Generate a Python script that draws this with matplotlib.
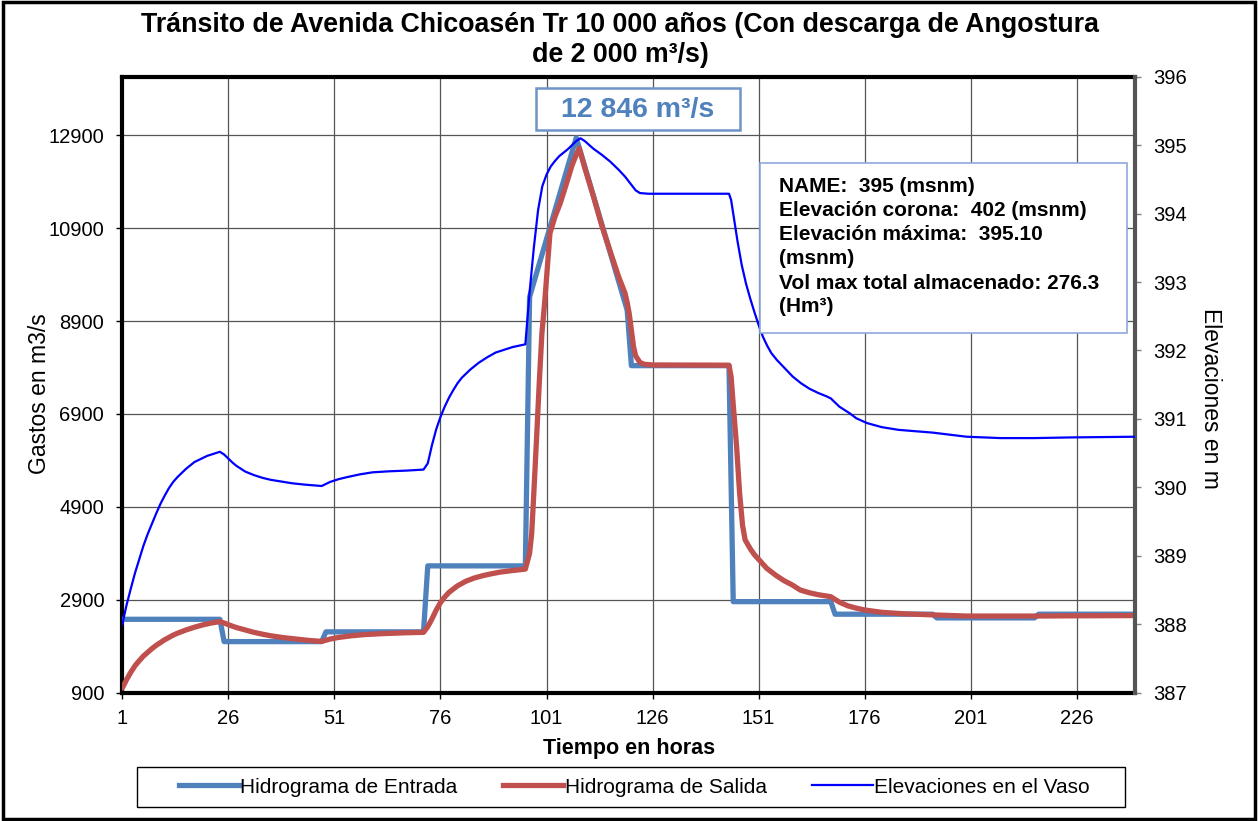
import matplotlib
matplotlib.use('Agg')
import matplotlib.pyplot as plt
from matplotlib.patches import Rectangle
from matplotlib.lines import Line2D

plt.rcParams['font.family'] = ['Liberation Sans', 'DejaVu Sans']

# ---------------- data ----------------
hours_in = [1, 24, 25, 48, 49, 72, 73, 96, 97, 108, 120, 121, 144, 145, 168, 169, 192, 193, 216, 217, 240]
q_in = [2480, 2480, 2000, 2000, 2210, 2210, 3630, 3630, 9420, 12846, 9135, 7940, 7940, 2860, 2860,
        2590, 2590, 2510, 2510, 2590, 2590]

hours_out = [1, 2, 3, 4, 5, 6, 7, 8, 9, 10, 11, 12, 13, 14, 15, 16, 17, 18, 19, 20, 21, 22, 23, 24,
             25, 26, 27, 28, 30, 32, 34, 36, 39, 42, 45, 48,
             49, 50, 52, 55, 58, 62, 67, 72,
             73, 74, 75, 76, 77, 78, 80, 82, 84, 86, 88, 90, 93, 96,
             97, 97.5, 98, 98.7, 99.3, 99.9, 100.6, 101.8, 103, 104.2, 106, 107, 108, 108.7,
             110, 112, 114, 116, 118, 119.5, 120, 120.5, 121, 121.5, 122, 123, 124, 126, 144,
             144.5, 145, 145.8, 146.5, 147.2, 147.8, 149, 150, 151, 152.9, 155, 157, 158.9, 160.8,
             163, 165, 168, 170, 172, 174, 176, 180, 185, 192, 200, 216, 225, 240]
q_out = [1000, 1180, 1340, 1480, 1590, 1690, 1770, 1850, 1920, 1980, 2040, 2090, 2140, 2180, 2215,
         2250, 2280, 2310, 2335, 2360, 2380, 2400, 2415, 2430,
         2400, 2365, 2330, 2300, 2250, 2200, 2160, 2125, 2085, 2055, 2025, 2005,
         2030, 2055, 2090, 2125, 2150, 2170, 2188, 2200,
         2320, 2490, 2680, 2840, 2960, 3060, 3200, 3300, 3370, 3420, 3460, 3495, 3530, 3560,
         3900, 4330, 5200, 6480, 7600, 8630, 9350, 10790, 11150, 11430, 11950, 12250, 12480, 12620,
         12200, 11600, 10960, 10400, 9850, 9500, 9300, 9050, 8700, 8350, 8150, 8010, 7970, 7955, 7950,
         7700, 7100, 6190, 5200, 4500, 4190, 4000, 3870, 3770, 3577, 3430, 3310, 3220, 3110,
         3050, 3010, 2966, 2850, 2770, 2720, 2680, 2630, 2600, 2575, 2550, 2550, 2555, 2560]

hours_elev = [1, 2, 3, 4, 5, 6, 7, 8, 9, 10, 11, 12, 13, 14, 15, 16, 17, 18, 19, 20, 21, 22, 23, 24,
              25, 26, 27, 28, 29, 30, 32, 34, 36, 38, 41, 44, 48,
              49, 50, 52, 54, 57, 60, 64, 68, 72,
              73, 74, 75, 76, 77, 78, 79, 80, 81, 82, 83, 85, 87, 89, 91, 93, 96,
              97, 98, 99, 100, 101, 102, 103, 104, 106, 108, 109, 110,
              112, 114, 116, 118, 119.5, 120, 121, 122, 123, 125, 144,
              144.5, 145, 146, 147, 148, 149, 150, 151, 152, 153, 154, 155.3, 157, 159, 161, 163, 165,
              167, 168, 170, 172.5, 174, 176.5, 180, 184, 192, 200, 208, 216, 225, 240]
elev = [388.0, 388.28, 388.52, 388.75, 388.95, 389.15, 389.32, 389.47, 389.62, 389.76, 389.88,
        389.99, 390.08, 390.15, 390.21, 390.27, 390.32, 390.37, 390.40, 390.43, 390.46, 390.48,
        390.50, 390.52,
        390.48, 390.42, 390.36, 390.31, 390.27, 390.23, 390.18, 390.14, 390.11, 390.09, 390.06,
        390.04, 390.02,
        390.05, 390.08, 390.12, 390.15, 390.19, 390.22, 390.235, 390.245, 390.26,
        390.35, 390.62, 390.85, 391.03, 391.18, 391.31, 391.42, 391.52, 391.60, 391.66, 391.72,
        391.82, 391.90, 391.97, 392.01, 392.05, 392.09,
        392.85, 393.5, 394.05, 394.4, 394.57, 394.69, 394.77, 394.84, 394.94, 395.06, 395.10, 395.06,
        394.95, 394.86, 394.76, 394.64, 394.54, 394.50, 394.42, 394.34, 394.30, 394.29, 394.29,
        394.2, 394.0, 393.6, 393.25, 392.98, 392.76, 392.56, 392.37, 392.2, 392.07, 391.96, 391.86,
        391.75, 391.62, 391.52, 391.44, 391.38,
        391.33, 391.30, 391.18, 391.08, 391.01, 390.94, 390.88, 390.84, 390.80, 390.74, 390.72,
        390.72, 390.73, 390.74]

x_ticks = [1, 26, 51, 76, 101, 126, 151, 176, 201, 226]
left_ticks = [900, 2900, 4900, 6900, 8900, 10900, 12900]
right_ticks = [387, 388, 389, 390, 391, 392, 393, 394, 395, 396]

labels = ['Hidrograma de Entrada', 'Hidrograma de Salida', 'Elevaciones en el Vaso']
title_lines = ['Tránsito de Avenida Chicoasén Tr 10 000 años (Con descarga de Angostura',
               'de 2 000 m³/s)']
peak_label = '12 846 m³/s'
info_lines = ['NAME:  395 (msnm)',
              'Elevación corona:  402 (msnm)',
              'Elevación máxima:  395.10',
              '(msnm)',
              'Vol max total almacenado: 276.3',
              '(Hm³)']

c_in = '#4F81BD'
c_out = '#C0504D'
c_el = '#0000FF'

W, H = 1258, 821
fig = plt.figure(figsize=(W / 100, H / 100), dpi=100)

def fx(px):
    return px / W

def fy(py):
    return 1 - py / H

L, R, T, B = 122.3, 1135, 76.7, 692.7
ax = fig.add_axes([fx(L), fy(B), fx(R) - fx(L), fy(T) - fy(B)])
ax2 = ax.twinx()

ax.plot(hours_in, q_in, color=c_in, lw=3.8, solid_joinstyle='round', solid_capstyle='round', zorder=3)
ax.plot(hours_out, q_out, color=c_out, lw=3.8, solid_joinstyle='round', solid_capstyle='round', zorder=4)
ax2.plot(hours_elev, elev, color=c_el, lw=1.6, solid_joinstyle='round', zorder=5)

ax.set_xlim(1, 239.7)
ax.set_ylim(900, 14160)
ax2.set_ylim(387, 396)
ax.set_xticks(x_ticks)
ax.set_yticks(left_ticks)
ax2.set_yticks(right_ticks)

ax.grid(True, color='#555555', lw=0.9)
ax.set_axisbelow(True)

ax.tick_params(axis='both', labelsize=14.5, length=4, width=1, direction='out', pad=8)
ax.tick_params(axis='y', pad=9)
ax2.tick_params(axis='y', labelsize=14.5, length=4, width=1, color='#808080', direction='out', pad=9)

for s in ['left', 'bottom', 'top']:
    ax.spines[s].set_linewidth(3)
    ax.spines[s].set_color('black')
ax.spines['right'].set_visible(False)
for s in ['left', 'bottom', 'top']:
    ax2.spines[s].set_visible(False)
ax2.spines['right'].set_linewidth(3)
ax2.spines['right'].set_color('#555555')

ax.set_xlabel('Tiempo en horas', fontsize=15.5, fontweight='bold', va='center')
ax.xaxis.set_label_coords(0.5, (B - 748) / (B - T))
ax.set_ylabel('Gastos en m3/s', fontsize=16.5, va='center')
ax.yaxis.set_label_coords((40 - L) / (R - L), (B - 394) / (B - T))
ax2.set_ylabel('Elevaciones en m', fontsize=16.5, rotation=270, va='center')
ax2.yaxis.set_label_coords((1210 - L) / (R - L), (B - 398) / (B - T))

fig.text(fx(620), fy(25), title_lines[0], ha='center', va='center', fontsize=19.3, fontweight='bold')
fig.text(fx(620), fy(55), title_lines[1], ha='center', va='center', fontsize=19.3, fontweight='bold')

# peak annotation box
fig.patches.append(Rectangle((fx(536), fy(130)), fx(740) - fx(536), fy(88) - fy(130),
                             transform=fig.transFigure, facecolor='white', edgecolor='#6F94C8',
                             lw=1.8, zorder=10))
fig.text(fx(638), fy(110), peak_label, ha='center', va='center', fontsize=20.5,
         fontweight='bold', color=c_in, zorder=11)

# info box
fig.patches.append(Rectangle((fx(759.5), fy(333.3)), fx(1127.3) - fx(759.5), fy(162.7) - fy(333.3),
                             transform=fig.transFigure, facecolor='white', edgecolor='#8EA9DB',
                             lw=1.2, zorder=10))
line_y = [186, 210, 234.5, 258.5, 283, 307]
for t, yy in zip(info_lines, line_y):
    fig.text(fx(779), fy(yy), t, ha='left', va='center', fontsize=15, fontweight='bold',
             color='black', zorder=11)

# legend
fig.patches.append(Rectangle((fx(137), fy(807)), fx(1125) - fx(137), fy(767) - fy(807),
                             transform=fig.transFigure, facecolor='white', edgecolor='black',
                             lw=1.0, zorder=1))
handles = [Line2D([], [], color=c_in, lw=3.8),
           Line2D([], [], color=c_out, lw=3.8),
           Line2D([], [], color=c_el, lw=1.6)]
fig.legend(handles, labels, loc='center', bbox_to_anchor=(fx(634), fy(787)), ncol=3,
           frameon=False, fontsize=15, handlelength=2.9, handletextpad=0.05, columnspacing=2.2)

# figure border
fig.patches.append(Rectangle((0.002, 0.002), 0.996, 0.996, transform=fig.transFigure,
                             facecolor='none', edgecolor='black', lw=2.5, zorder=0))

fig.savefig('out.png', dpi=100)
